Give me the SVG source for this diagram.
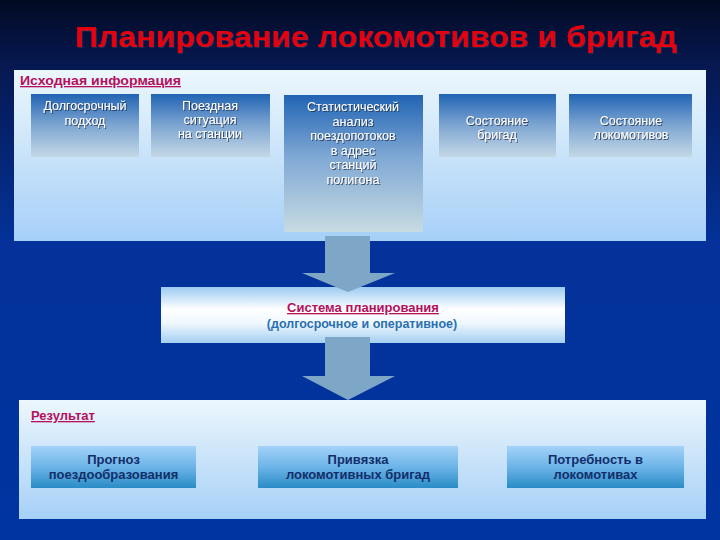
<svg xmlns="http://www.w3.org/2000/svg" width="720" height="540" viewBox="0 0 720 540">
<defs>
<linearGradient id="bg" x1="0" y1="0" x2="0" y2="1">
<stop offset="0" stop-color="#020a22"/>
<stop offset="0.12" stop-color="#061850"/>
<stop offset="0.45" stop-color="#04329a"/>
<stop offset="1" stop-color="#0034a0"/>
</linearGradient>
<linearGradient id="panel" x1="0" y1="0" x2="0" y2="1">
<stop offset="0" stop-color="#ecf7fd"/>
<stop offset="0.5" stop-color="#c9e3f9"/>
<stop offset="1" stop-color="#a6d0f8"/>
</linearGradient>
<linearGradient id="srcbox" x1="0" y1="0" x2="0" y2="1">
<stop offset="0" stop-color="#2164b4"/>
<stop offset="0.5" stop-color="#7ea6d2"/>
<stop offset="1" stop-color="#c4d8e6"/>
</linearGradient>
<linearGradient id="srcbox3" x1="0" y1="0" x2="0" y2="1">
<stop offset="0" stop-color="#2164b4"/>
<stop offset="0.45" stop-color="#7fa8d4"/>
<stop offset="1" stop-color="#c7dbe2"/>
</linearGradient>
<linearGradient id="mid" x1="0" y1="0" x2="0" y2="1">
<stop offset="0" stop-color="#9ccaf0"/>
<stop offset="0.4" stop-color="#ffffff"/>
<stop offset="0.65" stop-color="#eef7fe"/>
<stop offset="1" stop-color="#a4cff2"/>
</linearGradient>
<linearGradient id="resbox" x1="0" y1="0" x2="0" y2="1">
<stop offset="0" stop-color="#a4d2f8"/>
<stop offset="0.5" stop-color="#6cb4e8"/>
<stop offset="1" stop-color="#2a8cc6"/>
</linearGradient>
<filter id="sh" x="-10%" y="-20%" width="120%" height="140%">
<feDropShadow dx="1" dy="1" stdDeviation="0.4" flood-color="#203050" flood-opacity="0.8"/>
</filter>
</defs>
<style>
.title{font-family:"Liberation Sans",Arial,sans-serif;font-weight:bold;font-size:29px;fill:#e6000e}
.hdr{font-family:"Liberation Sans",Arial,sans-serif;font-weight:bold;font-size:13px;fill:#b4105c;text-decoration:underline}
.wt{font-family:"Liberation Sans",Arial,sans-serif;font-size:12.5px;fill:#ffffff;text-anchor:middle}
.dk{font-family:"Liberation Sans",Arial,sans-serif;font-weight:bold;font-size:13px;fill:#122e6a;text-anchor:middle}
.sub{font-family:"Liberation Sans",Arial,sans-serif;font-weight:bold;font-size:12.5px;fill:#2a70b0;text-anchor:middle}
.arrow{fill:#7ea6c6}
</style>
<rect x="0" y="0" width="720" height="540" fill="url(#bg)"/>
<text class="title" x="75" y="47" textLength="602" lengthAdjust="spacingAndGlyphs" filter="url(#sh)">Планирование локомотивов и бригад</text>

<g id="source-panel">
<rect x="14" y="70" width="692" height="171" fill="url(#panel)"/>
<text class="hdr" x="20" y="85" textLength="161" lengthAdjust="spacingAndGlyphs">Исходная информация</text>
</g>
<g id="src1">
<rect x="31" y="94" width="108" height="63" fill="url(#srcbox)"/>
<text class="wt" filter="url(#sh)"><tspan x="85" y="110">Долгосрочный</tspan><tspan x="85" y="125">подход</tspan></text>
</g>
<g id="src2">
<rect x="151" y="94" width="119" height="63" fill="url(#srcbox)"/>
<text class="wt" filter="url(#sh)"><tspan x="210" y="110">Поездная</tspan><tspan x="210" y="124">ситуация</tspan><tspan x="210" y="138">на станции</tspan></text>
</g>
<g id="src3">
<rect x="284" y="95" width="139" height="137" fill="url(#srcbox3)"/>
<text class="wt" filter="url(#sh)"><tspan x="353" y="111">Статистический</tspan><tspan x="353" y="125.5">анализ</tspan><tspan x="353" y="140">поездопотоков</tspan><tspan x="353" y="154.5">в адрес</tspan><tspan x="353" y="169">станций</tspan><tspan x="353" y="183.5">полигона</tspan></text>
</g>
<g id="src4">
<rect x="439" y="94" width="117" height="63" fill="url(#srcbox)"/>
<text class="wt" filter="url(#sh)"><tspan x="497" y="125">Состояние</tspan><tspan x="497" y="139">бригад</tspan></text>
</g>
<g id="src5">
<rect x="569" y="94" width="123" height="63" fill="url(#srcbox)"/>
<text class="wt" filter="url(#sh)"><tspan x="631" y="125">Состояние</tspan><tspan x="631" y="139">локомотивов</tspan></text>
</g>

<g id="planning">
<rect x="161" y="287" width="404" height="56" fill="url(#mid)"/>
<text class="hdr" x="363" y="312" text-anchor="middle">Система планирования</text>
<text class="sub" x="362" y="328">(долгосрочное и оперативное)</text>
</g>

<g id="result-panel">
<rect x="19" y="400" width="687" height="119" fill="url(#panel)"/>
<text class="hdr" x="31" y="420">Результат</text>
</g>
<g id="res1">
<rect x="31" y="446" width="165" height="42" fill="url(#resbox)"/>
<text class="dk"><tspan x="113.5" y="464">Прогноз</tspan><tspan x="113.5" y="479">поездообразования</tspan></text>
</g>
<g id="res2">
<rect x="258" y="446" width="200" height="42" fill="url(#resbox)"/>
<text class="dk"><tspan x="358" y="464">Привязка</tspan><tspan x="358" y="479">локомотивных бригад</tspan></text>
</g>
<g id="res3">
<rect x="507" y="446" width="177" height="42" fill="url(#resbox)"/>
<text class="dk"><tspan x="595.5" y="464">Потребность в</tspan><tspan x="595.5" y="479">локомотивах</tspan></text>
</g>

<g id="connectors">
<polygon class="arrow" points="325,236 370,236 370,273 395,273 348,292 302,273 325,273"/>
<polygon class="arrow" points="325,337 370,337 370,376 395,376 348,400 302,376 325,376"/>
</g>
</svg>
